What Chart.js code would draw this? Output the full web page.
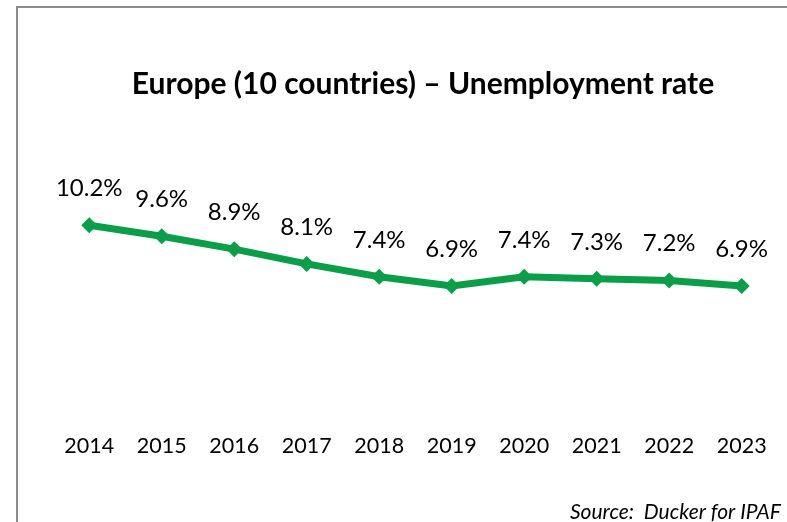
<!DOCTYPE html>
<html>
<head>
<meta charset="utf-8">
<script src="https://cdn.jsdelivr.net/npm/chart.js@4/dist/chart.umd.min.js"></script>
<style>
  html, body { margin: 0; padding: 0; background: #fff; }
  #wrap { position: relative; width: 787px; height: 522px; overflow: hidden; }
  #frame { position: absolute; left: 16px; top: 6px; width: 900px; height: 600px;
           border-left: 2px solid #8c8c8c; border-top: 2px solid #8c8c8c; }
  canvas { position: absolute; left: 0; top: 0; }
</style>
</head>
<body>
<div id="wrap">
  <div id="frame"></div>
  <canvas id="line" width="787" height="522"></canvas>
</div>
<script>
const years = ['2014', '2015', '2016', '2017', '2018', '2019', '2020', '2021', '2022', '2023'];
const unemployment = [10.2, 9.6, 8.9, 8.1, 7.4, 6.9, 7.4, 7.3, 7.2, 6.9];
const chartTitle = 'Europe (10 countries) \u2013 Unemployment rate';
const sourceNote = 'Source:  Ducker for IPAF';

// value labels above each point + title / source text
const labelsPlugin = {
  id: 'labels',
  afterDatasetsDraw(chart) {
    const ctx = chart.ctx;
    const meta = chart.getDatasetMeta(0);
    ctx.save();
    ctx.fillStyle = '#000';
    ctx.textAlign = 'center';
    ctx.textBaseline = 'alphabetic';
    ctx.font = '24px Lato';
    meta.data.forEach((pt, i) => {
      ctx.fillText(unemployment[i].toFixed(1) + '%', pt.x, pt.y - 29);
    });
    ctx.font = 'bold 30px Lato';
    ctx.fillText(chartTitle, 423, 94);
    ctx.textAlign = 'right';
    ctx.font = 'italic 21px Lato';
    ctx.fillText(sourceNote, 781, 519);
    ctx.restore();
  }
};

const lineConfig = {
  type: 'line',
  data: {
    labels: years,
    datasets: [
      {
        data: unemployment,
        borderColor: '#0b9e48',
        backgroundColor: '#0b9e48',
        borderWidth: 7,
        tension: 0,
        pointStyle: 'rectRot',
        pointRadius: 8,
        pointHoverRadius: 8,
        pointBorderWidth: 0,
      },
    ],
  },
  options: {
    responsive: false,
    animation: false,
    layout: {
      padding: { top: 192, left: 53, right: 8, bottom: 43 },
    },
    plugins: {
      legend: { display: false },
      tooltip: { enabled: false },
    },
    scales: {
      x: {
        offset: true,
        border: { display: false },
        grid: { display: false, drawTicks: false },
        ticks: {
          color: '#000',
          padding: 20,
          maxRotation: 0,
          font: { family: 'Lato', size: 21.5 },
        },
      },
      y: {
        display: false,
        min: 0,
        max: 12,
      },
    },
  },
  plugins: [labelsPlugin],
}

const lineCtx = document.getElementById('line')
window.myLine = new Chart(lineCtx, lineConfig)
</script>
</body>
</html>
